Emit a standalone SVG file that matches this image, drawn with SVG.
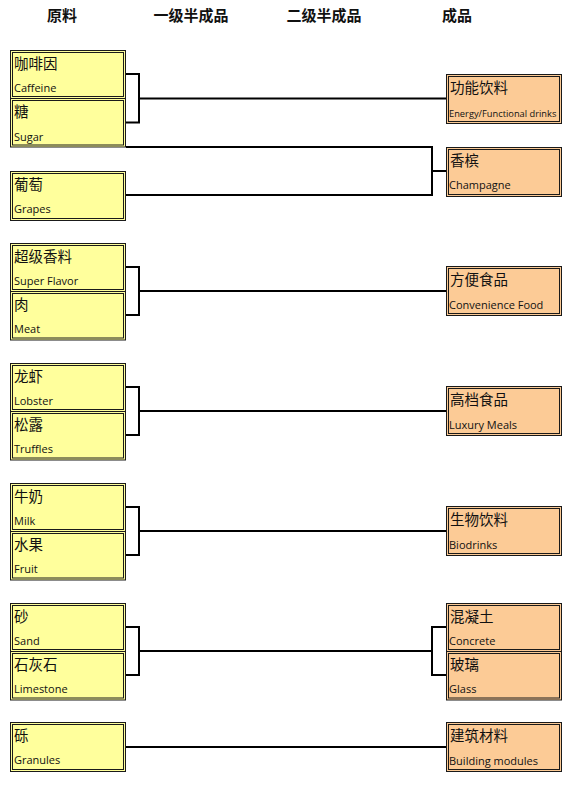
<svg xmlns="http://www.w3.org/2000/svg" width="576" height="789" viewBox="0 0 576 789">
<style>
.bg{fill:#ffffff}
.y{fill:#ffff9c;stroke:#1a1a1a;stroke-width:1}
.o{fill:#fccb96;stroke:#1a1a1a;stroke-width:1}
.i{fill:none;stroke:#1a1a1a;stroke-width:1}
.cn{font-family:"Noto Sans CJK SC","Noto Sans",sans-serif;font-size:14.5px;fill:#111}
.en{font-family:"Open Sans","Noto Sans",sans-serif;font-size:11px;fill:#111}
.hd{font-family:"Noto Sans CJK SC","Noto Sans",sans-serif;font-size:15px;font-weight:bold;fill:#111;text-anchor:middle}
.ln{fill:none;stroke:#000;stroke-width:2}
</style>
<rect class="bg" x="0" y="0" width="576" height="789"/>
<g id="headers">
<text class="hd" x="62" y="21">原料</text>
<text class="hd" x="191" y="21">一级半成品</text>
<text class="hd" x="324" y="21">二级半成品</text>
<text class="hd" x="457" y="21">成品</text>
</g>
<g id="connectors">
<path class="ln" d="M126 74 H139 V122.5 H126 M139 98.5 H446"/>
<path class="ln" d="M126 147 H432 V195 H126 M432 171 H446"/>
<path class="ln" d="M126 267 H139 V315 H126 M139 291 H446"/>
<path class="ln" d="M126 387 H139 V435 H126 M139 411 H446"/>
<path class="ln" d="M126 507 H139 V555 H126 M139 531 H446"/>
<path class="ln" d="M126 627 H139 V675 H126 M139 651 H432 M446 627 H432 V675 H446"/>
<path class="ln" d="M126 747 H446"/>
</g>
<g id="caffeine"><rect class="y" x="10.5" y="50.5" width="115" height="48"/><rect class="i" x="12.5" y="52.5" width="111" height="44"/><text class="cn" x="14" y="69">咖啡因</text><text class="en" x="14" y="92">Caffeine</text></g>
<g id="sugar"><rect class="y" x="10.5" y="98.5" width="115" height="48.5"/><rect class="i" x="12.5" y="100.5" width="111" height="44.5"/><text class="cn" x="14" y="117">糖</text><text class="en" x="14" y="141">Sugar</text></g>
<g id="grapes"><rect class="y" x="10.5" y="171.5" width="115" height="49"/><rect class="i" x="12.5" y="173.5" width="111" height="45"/><text class="cn" x="14" y="190">葡萄</text><text class="en" x="14" y="213">Grapes</text></g>
<g id="superflavor"><rect class="y" x="10.5" y="243.5" width="115" height="48"/><rect class="i" x="12.5" y="245.5" width="111" height="44"/><text class="cn" x="14" y="262">超级香料</text><text class="en" x="14" y="285">Super Flavor</text></g>
<g id="meat"><rect class="y" x="10.5" y="291.5" width="115" height="48.5"/><rect class="i" x="12.5" y="293.5" width="111" height="44.5"/><text class="cn" x="14" y="310">肉</text><text class="en" x="14" y="333">Meat</text></g>
<g id="lobster"><rect class="y" x="10.5" y="363.5" width="115" height="48"/><rect class="i" x="12.5" y="365.5" width="111" height="44"/><text class="cn" x="14" y="382">龙虾</text><text class="en" x="14" y="405">Lobster</text></g>
<g id="truffles"><rect class="y" x="10.5" y="411.5" width="115" height="48.5"/><rect class="i" x="12.5" y="413.5" width="111" height="44.5"/><text class="cn" x="14" y="430">松露</text><text class="en" x="14" y="453">Truffles</text></g>
<g id="milk"><rect class="y" x="10.5" y="483.5" width="115" height="48"/><rect class="i" x="12.5" y="485.5" width="111" height="44"/><text class="cn" x="14" y="502">牛奶</text><text class="en" x="14" y="525">Milk</text></g>
<g id="fruit"><rect class="y" x="10.5" y="531.5" width="115" height="48.5"/><rect class="i" x="12.5" y="533.5" width="111" height="44.5"/><text class="cn" x="14" y="550">水果</text><text class="en" x="14" y="573">Fruit</text></g>
<g id="sand"><rect class="y" x="10.5" y="603.5" width="115" height="48"/><rect class="i" x="12.5" y="605.5" width="111" height="44"/><text class="cn" x="14" y="622">砂</text><text class="en" x="14" y="645">Sand</text></g>
<g id="limestone"><rect class="y" x="10.5" y="651.5" width="115" height="48.5"/><rect class="i" x="12.5" y="653.5" width="111" height="44.5"/><text class="cn" x="14" y="670">石灰石</text><text class="en" x="14" y="693">Limestone</text></g>
<g id="granules"><rect class="y" x="10.5" y="722.5" width="115" height="49"/><rect class="i" x="12.5" y="724.5" width="111" height="45"/><text class="cn" x="14" y="741">砾</text><text class="en" x="14" y="764">Granules</text></g>
<g id="energy"><rect class="o" x="446.5" y="74.5" width="115" height="49"/><rect class="i" x="448.5" y="76.5" width="111" height="45"/><text class="cn" x="450" y="93">功能饮料</text><text class="en" x="449" y="117" style="font-size:9.3px">Energy/Functional drinks</text></g>
<g id="champagne"><rect class="o" x="446.5" y="147.5" width="115" height="49"/><rect class="i" x="448.5" y="149.5" width="111" height="45"/><text class="cn" x="450" y="166">香槟</text><text class="en" x="449" y="189">Champagne</text></g>
<g id="convenience"><rect class="o" x="446.5" y="266.5" width="115" height="49"/><rect class="i" x="448.5" y="268.5" width="111" height="45"/><text class="cn" x="450" y="285">方便食品</text><text class="en" x="449" y="309">Convenience Food</text></g>
<g id="luxury"><rect class="o" x="446.5" y="386.5" width="115" height="49"/><rect class="i" x="448.5" y="388.5" width="111" height="45"/><text class="cn" x="450" y="405">高档食品</text><text class="en" x="449" y="429">Luxury Meals</text></g>
<g id="biodrinks"><rect class="o" x="446.5" y="506.5" width="115" height="49"/><rect class="i" x="448.5" y="508.5" width="111" height="45"/><text class="cn" x="450" y="525">生物饮料</text><text class="en" x="449" y="549">Biodrinks</text></g>
<g id="concrete"><rect class="o" x="446.5" y="603.5" width="115" height="48"/><rect class="i" x="448.5" y="605.5" width="111" height="44"/><text class="cn" x="450" y="622">混凝土</text><text class="en" x="449" y="645">Concrete</text></g>
<g id="glass"><rect class="o" x="446.5" y="651.5" width="115" height="48.5"/><rect class="i" x="448.5" y="653.5" width="111" height="44.5"/><text class="cn" x="450" y="670">玻璃</text><text class="en" x="449" y="693">Glass</text></g>
<g id="building"><rect class="o" x="446.5" y="722.5" width="115" height="49"/><rect class="i" x="448.5" y="724.5" width="111" height="45"/><text class="cn" x="450" y="741">建筑材料</text><text class="en" x="449" y="765">Building modules</text></g>
</svg>
